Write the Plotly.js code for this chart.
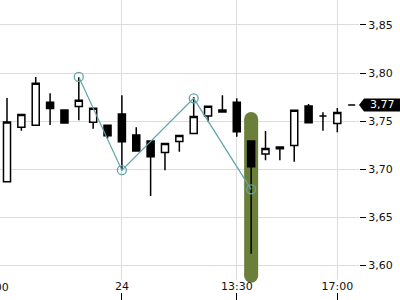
<!DOCTYPE html>
<html>
<head>
<meta charset="utf-8">
<script src="https://cdn.plot.ly/plotly-3.0.1.min.js"></script>
<style>html,body{margin:0;padding:0;background:#fff;}</style>
</head>
<body>
<div id="chart" style="width:400px;height:300px;"></div>
<script>
// Candle data (30-minute bars)
var candleIdx = [0,1,2,3,4,5,6,7,8,9,10,11,12,13,14,15,16,17,18,19,20,21,22,23,24];
var openVals  = [3.687,3.7435,3.7456,3.7695,3.7615,3.7653,3.7487,3.7456,3.7573,3.7355,3.7292,3.7174,3.7289,3.7372,3.7553,3.7615,3.7695,3.7293,3.7157,3.723,3.7247,3.7657,3.7552,3.7476,3.7668];
var highVals  = [3.774,3.757,3.796,3.779,3.7615,3.796,3.7633,3.7456,3.777,3.7435,3.7292,3.7268,3.7351,3.775,3.7654,3.777,3.7737,3.7293,3.7396,3.723,3.7612,3.7678,3.7591,3.7636,3.7668];
var lowVals   = [3.687,3.740,3.7456,3.746,3.748,3.751,3.742,3.732,3.699,3.719,3.672,3.699,3.718,3.7372,3.7493,3.7594,3.7337,3.612,3.7094,3.7094,3.7077,3.7483,3.740,3.7383,3.7668];
var closeVals = [3.749,3.757,3.7893,3.763,3.748,3.7716,3.7633,3.7347,3.7285,3.719,3.7129,3.7268,3.7351,3.7549,3.7654,3.7594,3.7389,3.7025,3.7216,3.7212,3.7612,3.7483,3.7552,3.7589,3.7668];

// Zig-zag overlay
var zigIdx = [5, 8, 13, 17];
var zigVals = [3.796, 3.699, 3.7737, 3.679];

// Highlighted candle and event marker
var highlightIdx = 17;
var highlightPad = 0.023;
var eventIdx = [17];
var eventVals = [3.5618];

// Axis ticks
var xTickIdx = [8, 16, 23];
var xTickText = ['24', '13:30', '17:00'];
var prevTickIdx = -1;
var prevTickText = '13:00';
var yTickVals = [3.60, 3.65, 3.70, 3.75, 3.80, 3.85];

var xRange = [-0.4875, 24.51];
var yRange = [3.5847, 3.876];
var GREEN = '#6b7f3a';
var TEAL = '#62a3ab';
var GRID = '#dcdcdc';

var lastClose = closeVals[closeVals.length - 1];

var traces = [
  {
    type: 'scatter', xaxis: 'x', yaxis: 'y',
    x: [highlightIdx, highlightIdx],
    y: [highVals[highlightIdx] + highlightPad, lowVals[highlightIdx] - highlightPad],
    mode: 'lines+markers',
    line: {color: GREEN, width: 14},
    marker: {color: GREEN, size: 14, line: {width: 0}},
    cliponaxis: false, hoverinfo: 'skip'
  },
  {
    type: 'scatter', xaxis: 'x', yaxis: 'y',
    x: eventIdx, y: eventVals, mode: 'markers',
    marker: {color: GREEN, size: 10, line: {width: 0}},
    cliponaxis: false, hoverinfo: 'skip'
  },
  {
    type: 'candlestick', xaxis: 'x2', yaxis: 'y2',
    x: candleIdx, open: openVals, high: highVals, low: lowVals, close: closeVals,
    increasing: {fillcolor: '#ffffff', line: {color: '#000000', width: 1.5}},
    decreasing: {fillcolor: '#000000', line: {color: '#000000', width: 1.5}},
    whiskerwidth: 0, hoverinfo: 'skip'
  },
  {
    type: 'scatter', xaxis: 'x2', yaxis: 'y2',
    x: zigIdx, y: zigVals, mode: 'lines+markers',
    line: {color: TEAL, width: 1.2},
    marker: {symbol: 'circle-open', size: 9, color: TEAL, line: {width: 1.3}},
    hoverinfo: 'skip'
  }
];

var fmt = function(v) { return v.toFixed(2).replace('.', ','); };

var layout = {
  width: 400, height: 300,
  margin: {l: 0, r: 41, t: 0, b: 0},
  paper_bgcolor: '#ffffff', plot_bgcolor: '#ffffff',
  separators: ',.',
  showlegend: false,
  font: {family: 'DejaVu Sans', size: 11, color: '#111111'},
  xaxis: {
    range: xRange, tickmode: 'array', tickvals: xTickIdx, ticktext: xTickText,
    showgrid: true, gridcolor: GRID, gridwidth: 1, ticks: '', zeroline: false, showline: false,
    rangeslider: {visible: false}, tickfont: {size: 11, color: '#111111'},
    ticklabelstandoff: -2
  },
  yaxis: {
    domain: [0.0667, 1], range: yRange, side: 'right',
    tickmode: 'array', tickvals: yTickVals, tickformat: '.2f',
    ticks: 'outside', ticklen: 6, tickwidth: 1, tickcolor: '#000000',
    showgrid: true, gridcolor: GRID, zeroline: false, showline: false,
    tickfont: {size: 11, color: '#111111'}
  },
  xaxis2: {
    overlaying: 'x', anchor: 'free', position: 0, range: xRange,
    tickmode: 'array', tickvals: xTickIdx, ticks: 'inside', ticklen: 7, tickwidth: 1, tickcolor: '#000000',
    showticklabels: false, showgrid: false, zeroline: false, showline: false,
    rangeslider: {visible: false}
  },
  yaxis2: {
    overlaying: 'y', range: yRange, side: 'right',
    showgrid: false, showticklabels: false, ticks: '', zeroline: false, showline: false
  },
  shapes: [
    {
      type: 'path', xref: 'paper', xsizemode: 'pixel', xanchor: 1,
      yref: 'y', ysizemode: 'pixel', yanchor: lastClose,
      path: 'M 0,0 L 5,6.5 L 41,6.5 L 41,-6.5 L 5,-6.5 Z',
      fillcolor: '#000000', line: {width: 0}, layer: 'above'
    }
  ],
  annotations: [
    {
      xref: 'paper', x: 1, xanchor: 'left', xshift: 9,
      yref: 'y', y: lastClose, yanchor: 'middle',
      text: fmt(lastClose), showarrow: false,
      font: {family: 'DejaVu Sans', size: 11, color: '#ffffff'}
    },
    {
      xref: 'paper', x: (prevTickIdx - xRange[0]) / (xRange[1] - xRange[0]), xanchor: 'center',
      yref: 'paper', y: 0.0667, yanchor: 'top', yshift: 1,
      text: prevTickText, showarrow: false,
      font: {family: 'DejaVu Sans', size: 11, color: '#111111'}
    }
  ]
};

Plotly.newPlot('chart', traces, layout, {staticPlot: true, displayModeBar: false});
</script>
</body>
</html>
